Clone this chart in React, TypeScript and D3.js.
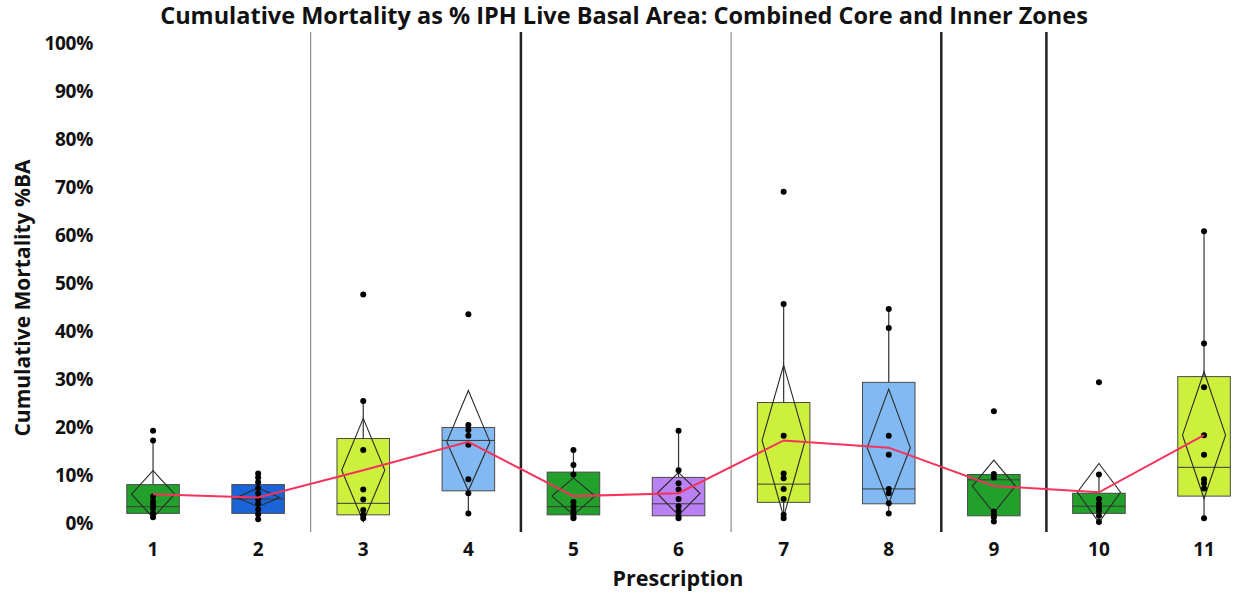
import React, { useEffect, useRef } from 'react';
import * as d3 from 'd3';

const categories = ['1', '2', '3', '4', '5', '6', '7', '8', '9', '10', '11'];
const boxColors = ['#22a02b', '#1b64d8', '#ccf03c', '#82b9f2', '#22a02b', '#b981f2', '#ccf03c', '#82b9f2', '#22a02b', '#22a02b', '#ccf03c'];

// box stats (% BA)
const q1 = [2.0, 2.0, 1.7, 6.7, 1.7, 1.5, 4.3, 4.0, 1.5, 2.0, 5.6];
const medians = [3.4, 5.0, 4.1, 17.2, 3.4, 4.0, 8.1, 7.1, 9.0, 3.5, 11.6];
const q3 = [8.0, 8.0, 17.6, 19.9, 10.6, 9.5, 25.1, 29.3, 10.1, 6.2, 30.5];
const whiskerLow = [1.2, 0.8, 1.0, 2.0, 1.0, 1.0, 1.0, 2.0, 0.3, 0.2, 1.0];
const whiskerHigh = [17.2, 10.3, 25.4, 20.4, 15.2, 19.2, 45.6, 44.6, 10.2, 10.1, 60.8];

// mean and its confidence diamond
const means = [6.0, 5.3, 11.0, 16.9, 5.6, 6.2, 17.2, 15.7, 7.7, 6.4, 18.3];
const ciLow = [1.1, 3.4, 0.3, 6.7, 1.7, 1.6, 1.3, 4.1, 2.1, 0.1, 5.1];
const ciHigh = [10.9, 7.3, 21.8, 27.6, 9.4, 10.5, 32.9, 27.9, 13.1, 12.4, 31.5];

// individual observations
const points = [
  [19.2, 17.2, 5.5, 4.5, 3.8, 3.0, 2.0, 1.2],
  [10.3, 9.5, 8.5, 7.3, 6.2, 5.0, 4.0, 2.8, 1.8, 0.8],
  [47.6, 25.4, 15.2, 7.0, 4.9, 2.7, 1.7, 1.0],
  [43.5, 20.4, 19.4, 18.2, 16.3, 9.1, 6.2, 2.0],
  [15.2, 12.1, 10.1, 4.4, 3.5, 2.7, 2.0, 1.3, 1.0],
  [19.2, 11.0, 8.3, 7.0, 5.0, 3.5, 2.5, 1.5, 1.0],
  [69.0, 45.6, 18.2, 10.3, 9.3, 7.1, 5.0, 1.7, 1.0],
  [44.6, 40.6, 18.2, 14.2, 7.1, 6.2, 4.1, 2.0],
  [23.3, 10.2, 9.5, 2.4, 1.8, 1.2, 0.3],
  [29.3, 10.1, 5.0, 4.0, 3.2, 2.5, 1.5, 0.2],
  [60.8, 37.4, 28.3, 18.3, 14.2, 9.1, 8.3, 7.2, 1.0],
];

const yTicks = [0, 10, 20, 30, 40, 50, 60, 70, 80, 90, 100];
// group separators: drawn after these categories
const separators = [
  { after: '2', heavy: false },
  { after: '4', heavy: true },
  { after: '6', heavy: false },
  { after: '8', heavy: true },
  { after: '9', heavy: true },
];

const W = 1233;
const H = 596;
const FONT = '"Open Sans", "Noto Sans", sans-serif';

export default function App() {
  const svgRef = useRef<SVGSVGElement>(null);

  useEffect(() => {
    if (!svgRef.current) return;
    const svg = d3.select(svgRef.current);
    svg.selectAll('*').remove();

    const x = d3.scaleBand().domain(categories).range([100.5, 1256.6]).padding(0);
    const y = d3.scaleLinear().domain([0, 100]).range([523, 43]);
    const bw = x.bandwidth();
    const cx = (c: string) => x(c)! + bw / 2;
    const boxW = bw * 0.5;
    const diaW = boxW * 0.82;

    svg.append('rect').attr('width', W).attr('height', H).attr('fill', '#fff');

    // title
    svg.append('text')
      .attr('x', 624).attr('y', 24)
      .attr('text-anchor', 'middle')
      .attr('font-family', FONT).attr('font-weight', 700).attr('font-size', 23.5)
      .attr('fill', '#111')
      .text('Cumulative Mortality as % IPH Live Basal Area: Combined Core and Inner Zones');

    // separators
    svg.selectAll('.sep')
      .data(separators)
      .enter().append('line')
      .attr('x1', d => x(d.after)! + bw)
      .attr('x2', d => x(d.after)! + bw)
      .attr('y1', 32).attr('y2', 532)
      .attr('stroke', d => d.heavy ? '#222' : '#777')
      .attr('stroke-width', d => d.heavy ? 2.5 : 1);

    // y axis labels
    svg.selectAll('.ytick')
      .data(yTicks)
      .enter().append('text')
      .attr('x', 93).attr('y', d => y(d))
      .attr('dy', '0.35em')
      .attr('text-anchor', 'end')
      .attr('font-family', FONT).attr('font-weight', 700).attr('font-size', 19)
      .attr('letter-spacing', -0.3)
      .attr('fill', '#111')
      .text(d => `${d}%`);

    svg.append('text')
      .attr('transform', `translate(30,${298}) rotate(-90)`)
      .attr('text-anchor', 'middle')
      .attr('font-family', FONT).attr('font-weight', 700).attr('font-size', 21)
      .attr('fill', '#111')
      .text('Cumulative Mortality %BA');

    // x axis labels
    svg.selectAll('.xtick')
      .data(categories)
      .enter().append('text')
      .attr('x', d => cx(d)).attr('y', 549)
      .attr('dy', '0.35em')
      .attr('text-anchor', 'middle')
      .attr('font-family', FONT).attr('font-weight', 700).attr('font-size', 19)
      .attr('fill', '#111')
      .text(d => d);

    svg.append('text')
      .attr('x', 678).attr('y', 578)
      .attr('dy', '0.35em')
      .attr('text-anchor', 'middle')
      .attr('font-family', FONT).attr('font-weight', 700).attr('font-size', 21.5)
      .attr('fill', '#111')
      .text('Prescription');

    const g = svg.append('g');
    const idx = categories.map((c, i) => i);

    // whiskers
    g.selectAll('.whisker')
      .data(idx)
      .enter().append('line')
      .attr('x1', i => cx(categories[i])).attr('x2', i => cx(categories[i]))
      .attr('y1', i => y(whiskerLow[i])).attr('y2', i => y(whiskerHigh[i]))
      .attr('stroke', '#333').attr('stroke-width', 1.2);

    // boxes
    g.selectAll('.box')
      .data(idx)
      .enter().append('rect')
      .attr('x', i => cx(categories[i]) - boxW / 2)
      .attr('width', boxW)
      .attr('y', i => y(q3[i]))
      .attr('height', i => y(q1[i]) - y(q3[i]))
      .attr('fill', i => boxColors[i])
      .attr('stroke', '#4a4a4a').attr('stroke-width', 1);

    // medians
    g.selectAll('.median')
      .data(idx)
      .enter().append('line')
      .attr('x1', i => cx(categories[i]) - boxW / 2)
      .attr('x2', i => cx(categories[i]) + boxW / 2)
      .attr('y1', i => y(medians[i])).attr('y2', i => y(medians[i]))
      .attr('stroke', '#3a3a3a').attr('stroke-width', 1);

    // mean diamonds
    g.selectAll('.diamond')
      .data(idx)
      .enter().append('path')
      .attr('d', i => {
        const c = cx(categories[i]);
        return `M${c},${y(ciHigh[i])}L${c + diaW / 2},${y(means[i])}L${c},${y(ciLow[i])}L${c - diaW / 2},${y(means[i])}Z`;
      })
      .attr('fill', 'none')
      .attr('stroke', '#2a2a2a').attr('stroke-width', 1.1);

    // points
    const flat = points.flatMap((vals, i) => vals.map(v => ({ c: categories[i], v })));
    g.selectAll('.pt')
      .data(flat)
      .enter().append('circle')
      .attr('cx', d => cx(d.c))
      .attr('cy', d => y(d.v))
      .attr('r', 3)
      .attr('fill', '#000');

    // mean line
    const line = d3.line<number>()
      .x(i => cx(categories[i]))
      .y(i => y(means[i]));
    g.append('path')
      .attr('d', line(idx))
      .attr('fill', 'none')
      .attr('stroke', '#f5335d')
      .attr('stroke-width', 2);
  }, []);

  return (
    <svg ref={svgRef} width={W} height={H} style={{ position: 'absolute', left: 0, top: 0 }} />
  );
}
